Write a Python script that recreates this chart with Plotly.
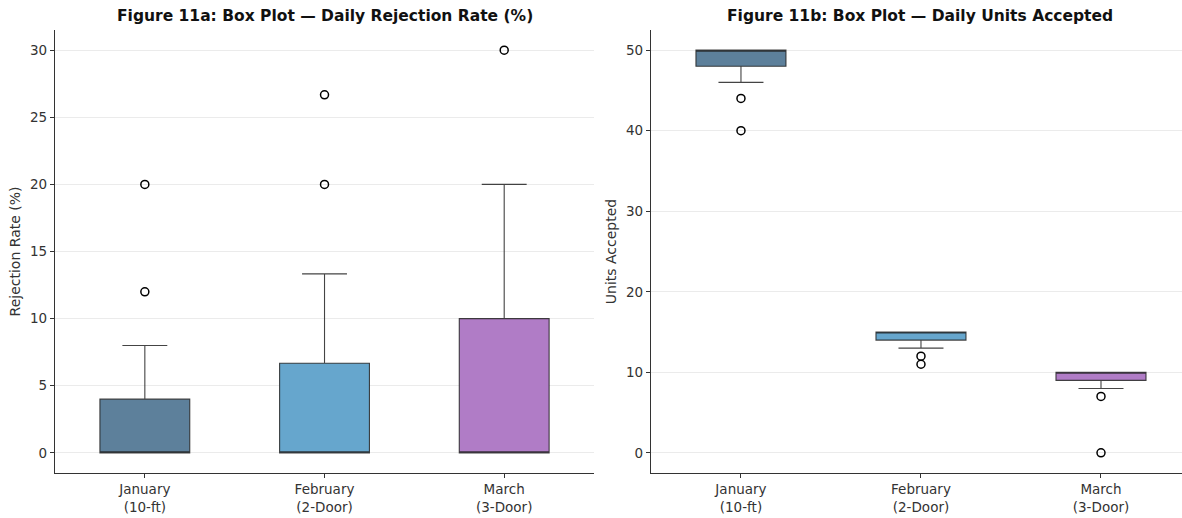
import plotly.graph_objects as go

# ---- data ----
categories = ["January<br>(10-ft)", "February<br>(2-Door)", "March<br>(3-Door)"]
positions = [1, 2, 3]
colors = ["rgba(93,128,155,1)", "rgba(102,166,205,1)", "rgba(176,124,198,1)"]

# Figure 11a: Daily Rejection Rate (%)
rej_q1 = [0, 0, 0]
rej_median = [0, 0, 0]
rej_q3 = [4, 6.67, 10]
rej_low = [0, 0, 0]
rej_high = [8, 13.33, 20]
rej_outliers = [[12, 20], [20, 26.67], [30]]

# Figure 11b: Daily Units Accepted
acc_q1 = [48, 14, 9]
acc_median = [50, 15, 10]
acc_q3 = [50, 15, 10]
acc_low = [46, 13, 8]
acc_high = [50, 15, 10]
acc_outliers = [[44, 40], [12, 11], [7, 0]]

fig = go.Figure()

def add_boxes(q1, med, q3, lo, hi, outl, xa, ya):
    for i, p in enumerate(positions):
        fig.add_trace(go.Box(
            x=[p], q1=[q1[i]], median=[med[i]], q3=[q3[i]],
            lowerfence=[lo[i]], upperfence=[hi[i]],
            width=0.5, whiskerwidth=0.5,
            fillcolor=colors[i],
            line=dict(color="rgba(35,35,35,0.85)", width=1.1),
            boxpoints=False, showlegend=False, hoverinfo="skip",
            xaxis=xa, yaxis=ya))
        fig.add_trace(go.Scatter(
            x=[p] * len(outl[i]), y=outl[i], mode="markers",
            marker=dict(symbol="circle-open", size=8, color="black",
                        line=dict(width=1.5, color="black")),
            showlegend=False, hoverinfo="skip", xaxis=xa, yaxis=ya))

add_boxes(rej_q1, rej_median, rej_q3, rej_low, rej_high, rej_outliers, "x", "y")
add_boxes(acc_q1, acc_median, acc_q3, acc_low, acc_high, acc_outliers, "x2", "y2")

tick_font = dict(family="DejaVu Sans", size=13.5, color="#333")
title_font = dict(family="DejaVu Sans", size=14, color="#333")
axis_common = dict(showline=True, linecolor="#333", linewidth=1.2,
                   ticks="outside", ticklen=4, tickcolor="#333",
                   tickfont=tick_font, zeroline=False)

fig.update_layout(
    width=1182, height=518,
    margin=dict(l=55, r=0, t=30, b=45),
    plot_bgcolor="white", paper_bgcolor="white",
    boxmode="overlay",
    font=dict(family="DejaVu Sans", size=12, color="#222"),
    xaxis=dict(domain=[0, 0.4783], range=[0.5, 3.5], tickvals=positions,
               ticktext=categories, showgrid=False, **axis_common),
    yaxis=dict(range=[-1.5, 31.5], tickvals=[0, 5, 10, 15, 20, 25, 30],
               showgrid=True, gridcolor="#ebebeb", gridwidth=1,
               title=dict(text="Rejection Rate (%)", standoff=6, font=title_font),
               **axis_common),
    xaxis2=dict(domain=[0.5288, 1], range=[0.5, 3.45], tickvals=positions,
                ticktext=categories, showgrid=False, anchor="y2", **axis_common),
    yaxis2=dict(range=[-2.5, 52.5], tickvals=[0, 10, 20, 30, 40, 50],
                showgrid=True, gridcolor="#ebebeb", gridwidth=1, anchor="x2",
                title=dict(text="Units Accepted", standoff=6, font=title_font),
                **axis_common),
    annotations=[
        dict(text="<b>Figure 11a: Box Plot — Daily Rejection Rate (%)</b>",
             xref="x domain", yref="paper", x=0.5, y=1, yshift=14,
             xanchor="center", yanchor="middle", showarrow=False,
             font=dict(family="DejaVu Sans", size=15.5, color="#111")),
        dict(text="<b>Figure 11b: Box Plot — Daily Units Accepted</b>",
             xref="x2 domain", yref="paper", x=0.507, y=1, yshift=14,
             xanchor="center", yanchor="middle", showarrow=False,
             font=dict(family="DejaVu Sans", size=15.5, color="#111")),
    ],
)

fig.write_html("out.html")
